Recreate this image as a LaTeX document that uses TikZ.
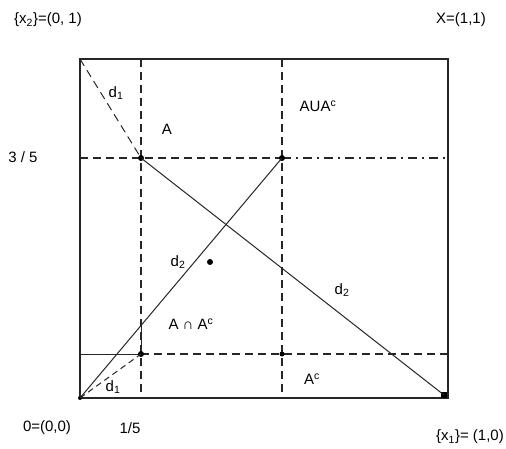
\documentclass[tikz,border=0pt]{standalone}
\usepackage{fontspec}
\setmainfont{Liberation Sans}
\begin{document}
\begin{tikzpicture}[x=1pt,y=-1pt,
  frame/.style={line width=1.5pt,draw=black!85},
  thin/.style={line width=1pt,draw=black!85},
  dsh/.style={line width=1.2pt,draw=black!85,dash pattern=on 8pt off 5pt},
  dshdot/.style={line width=1.2pt,draw=black!85,dash pattern=on 9pt off 5pt on 2pt off 5pt},
  dotn/.style={circle,fill=black,inner sep=0pt,minimum size=6pt},
  lab/.style={font=\fontsize{15}{17}\selectfont,inner sep=0pt}]
\useasboundingbox (0,0) rectangle (506,449);
% frame corners
\coordinate (O) at (80,398);
\coordinate (TL) at (80,59);
\coordinate (TR) at (448,59);
\coordinate (BR) at (448,398);
% grid points
\coordinate (V1t) at (141,59);
\coordinate (V1b) at (141,398);
\coordinate (V2t) at (282,59);
\coordinate (V2b) at (282,398);
\coordinate (H1l) at (80,158);
\coordinate (H1r) at (448,158);
\coordinate (H2l) at (80,354);
\coordinate (H2r) at (448,354);
\coordinate (Q) at (141,326);
% dashed grid
\draw[dsh] (V1t) -- (V1b);
\draw[dsh] (V2t) -- (V2b);
\draw[dsh] (H1l) -- (282,158);
\draw[dshdot] (282,158) -- (H1r);
\draw[dsh] (141,354) -- (H2r);
\draw[thin] (H2l) -- (141,354);
\draw[thin] (Q) -- (141,354);
% frame
\draw[frame] (TL) -- (TR) -- (BR) -- (O) -- cycle;
% dots
\node[dotn] (P1) at (141,158) {};
\node[dotn] (P2) at (282,158) {};
\node[dotn] (P3) at (141,354) {};
\node[dotn,minimum size=5pt] (P4) at (282,354) {};
\node[dotn] (M) at (210,262) {};
\node[fill=black,inner sep=0pt,minimum size=6pt] (E) at (444,395) {};
\node[circle,fill=black,inner sep=0pt,minimum size=4pt] (Od) at (O) {};
% lines
\draw[dsh,line width=1pt] (TL) -- (P1.center);
\draw[thin] (P1.center) -- (E.center);
\draw[thin] (O) -- (P2.center);
\draw[dsh,line width=1pt,dash pattern=on 6pt off 4pt] (O) -- (P3.center);
% labels
\node[lab] (lx2) at (48,20) {\{x\textsubscript{2}\}=(0, 1)};
\node[lab] (lX) at (461,20) {X=(1,1)};
\node[lab] (l35) at (23,157) {3 / 5};
\node[lab] (l00) at (47,428) {0=(0,0)};
\node[lab] (l15) at (130,428) {1/5};
\node[lab] (lx1) at (470,437) {\{x\textsubscript{1}\}= (1,0)};
\node[lab] (lA) at (167,129) {A};
\node[lab] (lAU) at (318,106) {AUA\textsuperscript{c}};
\node[lab] (ld1a) at (116,93) {d\textsubscript{1}};
\node[lab] (ld2a) at (178,262) {d\textsubscript{2}};
\node[lab] (ld2b) at (342,290) {d\textsubscript{2}};
\node[lab] (lAn) at (191,324) {A ∩ A\textsuperscript{c}};
\node[lab] (lAc) at (312,379) {A\textsuperscript{c}};
\node[lab] (ld1b) at (113,387) {d\textsubscript{1}};
\end{tikzpicture}
\end{document}
